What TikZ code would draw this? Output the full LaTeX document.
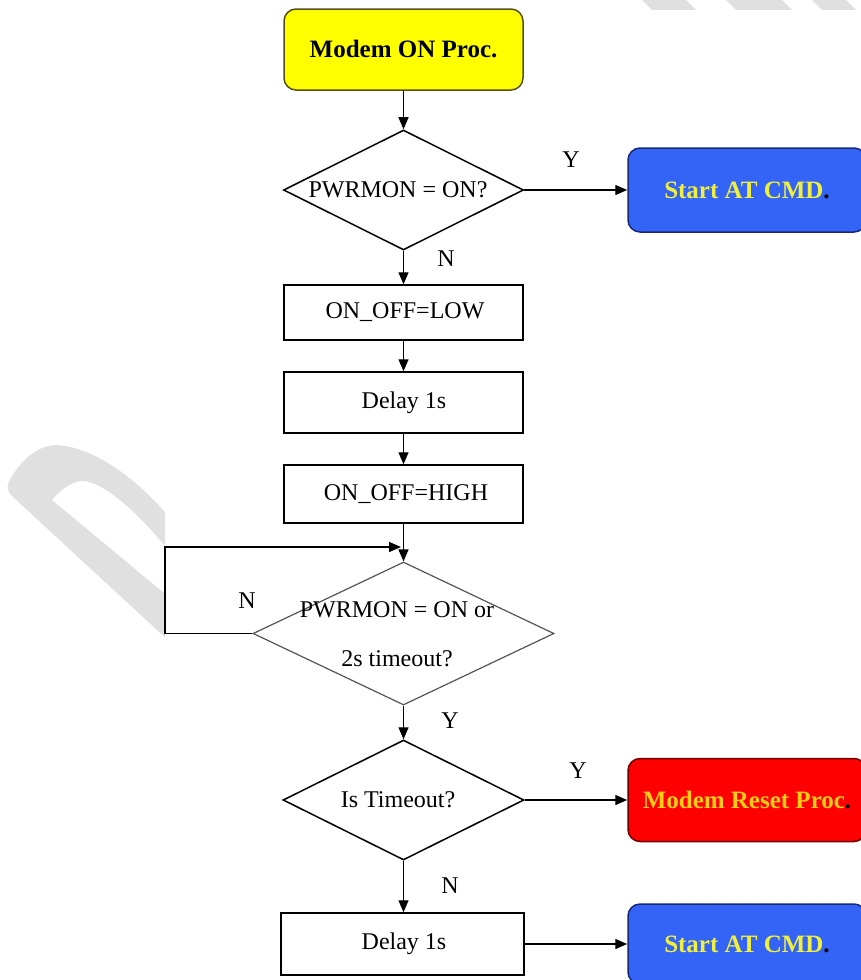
\documentclass[tikz,border=0pt]{standalone}
\usepackage{fontspec}
\setmainfont{Liberation Serif}
\usetikzlibrary{arrows.meta,shapes.geometric}

\definecolor{wmgray}{RGB}{224,224,224}
\definecolor{procyellow}{RGB}{255,255,0}
\definecolor{olivedark}{RGB}{85,80,20}
\definecolor{cmdblue}{RGB}{52,100,245}
\definecolor{bluedark}{RGB}{25,40,120}
\definecolor{resetred}{RGB}{255,0,0}
\definecolor{reddark}{RGB}{110,0,0}
\definecolor{cmdtext}{RGB}{240,240,60}
\definecolor{resettext}{RGB}{255,205,20}
\definecolor{softline}{RGB}{85,85,85}

\tikzset{
  txt/.style={font=\fontsize{24}{28}\selectfont, inner sep=0pt},
  yn/.style={font=\fontsize{24}{28}\selectfont, inner sep=0pt},
  procbox/.style={rectangle, draw=black, line width=1.5pt, fill=white,
    inner sep=0pt, minimum width=239pt},
  decision/.style={diamond, draw=black, line width=1.5pt, fill=white, inner sep=0pt},
  termbox/.style={rectangle, rounded corners=12pt, line width=1.5pt, inner sep=0pt,
    font=\bfseries\fontsize{25}{29}\selectfont},
  flow/.style={line width=1.3pt, -{Triangle[length=12pt,width=10pt]}},
}

\begin{document}
\begin{tikzpicture}[x=1pt,y=-1pt]
\useasboundingbox (0,0) rectangle (861,980);

% faint watermark strokes behind the chart
\fill[wmgray] (8,484) .. controls (14,470) and (32,446) .. (55,445)
  .. controls (95,446) and (140,482) .. (170,518) -- (170,552)
  .. controls (140,515) and (105,482) .. (83,481)
  .. controls (72,481) and (60,490) .. (52,500)
  -- (170,598) -- (170,642) -- (12,496) .. controls (8,492) and (7,488) .. cycle;
\fill[wmgray] (642,0) -- (686,0) -- (716,30) -- (672,30) -- cycle;
\fill[wmgray] (726,0) -- (782,0) -- (812,30) -- (756,30) -- cycle;
\fill[wmgray] (812,0) -- (846,0) -- (876,30) -- (842,30) -- cycle;
\fill[white] (165,10) rectangle (861,980);

% nodes
\node[termbox, fill=procyellow, draw=olivedark, minimum width=239pt, minimum height=81pt]
  (start) at (403.5,49.5) {Modem ON Proc.};

\node[decision, minimum width=240pt, minimum height=120pt] (pwr) at (403.5,190) {};
\node[txt] (pwrtxt) at (398,190) {PWRMON = ON?};

\node[termbox, fill=cmdblue, draw=bluedark, text=cmdtext, minimum width=238pt, minimum height=84pt]
  (at1) at (747,190) {Start AT CMD{\color{black}.}};

\node[procbox, minimum height=55pt] (low) at (403.5,312.5) {};
\node[txt] (lowtxt) at (405,312.5) {ON\_OFF=LOW};

\node[procbox, minimum height=61pt] (wait1) at (403.5,402.5) {};
\node[txt] (wait1txt) at (404,402.5) {Delay 1s};

\node[procbox, minimum height=58pt] (high) at (403.5,494) {};
\node[txt] (hightxt) at (406,494) {ON\_OFF=HIGH};

\node[decision, draw=softline, line width=1.2pt, minimum width=301pt, minimum height=143pt]
  (chk) at (403.5,633.5) {};
\node[txt] (chktxta) at (397,610) {PWRMON = ON or};
\node[txt] (chktxtb) at (397,659) {2s timeout?};

\node[decision, minimum width=241pt, minimum height=120pt] (tmo) at (403.5,800) {};
\node[txt] (tmotxt) at (398,800) {Is Timeout?};

\node[termbox, fill=resetred, draw=reddark, text=resettext, minimum width=238pt, minimum height=83pt]
  (reset) at (747,800) {Modem Reset Proc{\color{black}.}};

\node[procbox, minimum width=243pt, minimum height=62pt] (wait2) at (402.5,944) {};
\node[txt] (wait2txt) at (404,944) {Delay 1s};

\node[termbox, fill=cmdblue, draw=bluedark, text=cmdtext, minimum width=238pt, minimum height=80pt]
  (at2) at (747,944) {Start AT CMD{\color{black}.}};

% branch labels
\node[yn] (y1) at (571,160) {Y};
\node[yn] (n1) at (446,259) {N};
\node[yn] (n2) at (247,601) {N};
\node[yn] (y2) at (450,721) {Y};
\node[yn] (y3) at (578,771) {Y};
\node[yn] (n3) at (450,886) {N};

% connectors
\coordinate (loopleft) at (165,633.5);
\coordinate (loopend) at (401,547);

\draw[flow] (start) -- (pwr);
\draw[flow] (pwr) -- (at1);
\draw[flow] (pwr) -- (low);
\draw[flow] (low) -- (wait1);
\draw[flow] (wait1) -- (high);
\draw[flow] (high.south) -- (chk.north);
\draw[flow] (chk.west) -- (loopleft) |- (loopend);
\draw[flow] (chk.south) -- (tmo.north);
\draw[flow] (tmo) -- (reset);
\draw[flow] (tmo.south) -- (tmo.south |- wait2.north);
\draw[flow] (wait2.east) -- (wait2.east -| at2.west);
\end{tikzpicture}
\end{document}
